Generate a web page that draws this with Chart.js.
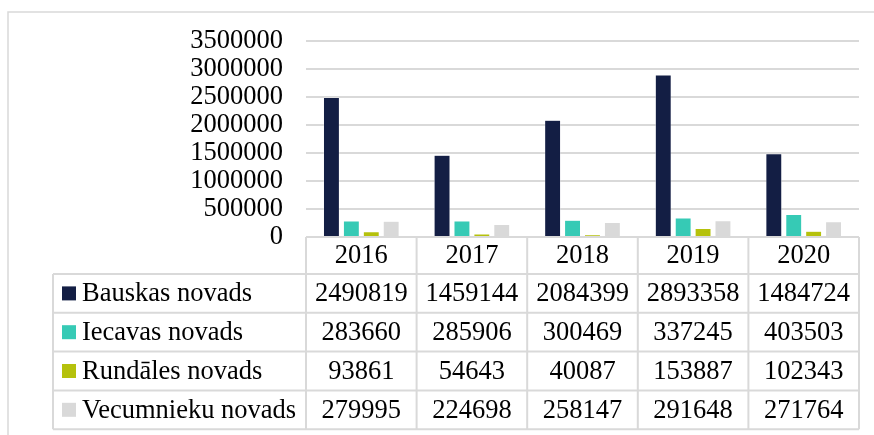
<!DOCTYPE html>
<html>
<head>
<meta charset="utf-8">
<script src="https://cdn.jsdelivr.net/npm/chart.js@4/dist/chart.umd.min.js"></script>
<style>
  html, body { margin: 0; padding: 0; background: #fff; }
  #wrap { width: 874px; height: 435px; position: relative; }
</style>
</head>
<body>
<div id="wrap"><canvas id="myChart" width="874" height="435"></canvas></div>
<script>
const years = ['2016', '2017', '2018', '2019', '2020'];
const seriesNames = ['Bauskas novads', 'Iecavas novads', 'Rundāles novads', 'Vecumnieku novads'];
const bauska = [2490819, 1459144, 2084399, 2893358, 1484724];
const iecava = [283660, 285906, 300469, 337245, 403503];
const rundale = [93861, 54643, 40087, 153887, 102343];
const vecumnieki = [279995, 224698, 258147, 291648, 271764];
const colors = ['#131e44', '#36cab5', '#b5c10c', '#d9d9d9'];

const seriesValues = [bauska, iecava, rundale, vecumnieki];
const FAMILY = '"Liberation Serif", "Times New Roman", serif';
const SIZE = 26.5;
const LINE = '#d9d9d9';

// data table under the plot, plus the outer frame
const tablePlugin = {
  id: 'dataTable',
  afterDraw(chart) {
    const ctx = chart.ctx;
    const area = chart.chartArea;
    const x = chart.scales.x;
    const colW = (area.right - area.left) / years.length;
    const tableLeft = 53;
    const headerTop = area.bottom;
    const headerH = 37;
    const rowH = 38.8;
    const rowsTop = headerTop + headerH;
    const bottom = rowsTop + rowH * seriesNames.length;

    ctx.save();
    // outer frame
    ctx.strokeStyle = LINE;
    ctx.lineWidth = 1.5;
    ctx.beginPath();
    ctx.moveTo(8, 435);
    ctx.lineTo(8, 12);
    ctx.lineTo(874, 12);
    ctx.stroke();

    // table grid
    ctx.lineWidth = 2;
    ctx.beginPath();
    ctx.moveTo(area.left, headerTop);
    ctx.lineTo(area.right, headerTop);
    for (let r = 0; r <= seriesNames.length; r++) {
      const y = rowsTop + r * rowH;
      ctx.moveTo(tableLeft, y);
      ctx.lineTo(area.right, y);
    }
    ctx.moveTo(tableLeft, rowsTop);
    ctx.lineTo(tableLeft, bottom);
    for (let c = 0; c <= years.length; c++) {
      const cx = area.left + c * colW;
      ctx.moveTo(cx, headerTop);
      ctx.lineTo(cx, bottom);
    }
    ctx.stroke();

    ctx.font = SIZE + 'px ' + FAMILY;
    ctx.fillStyle = '#000';
    ctx.textAlign = 'center';
    ctx.textBaseline = 'middle';
    years.forEach((yr, i) => {
      ctx.fillText(yr, x.getPixelForValue(i), headerTop + headerH / 2 + 1);
    });

    seriesNames.forEach((name, r) => {
      const cy = rowsTop + r * rowH + rowH / 2;
      ctx.fillStyle = colors[r];
      ctx.fillRect(62, cy - 7, 14, 14);
      ctx.fillStyle = '#000';
      ctx.textAlign = 'left';
      ctx.fillText(name, 82, cy + 1);
      ctx.textAlign = 'center';
      seriesValues[r].forEach((v, i) => {
        ctx.fillText(String(v), x.getPixelForValue(i), cy + 1);
      });
    });
    ctx.restore();
  }
};

const ctx = document.getElementById('myChart');

const chart = new Chart(ctx, {
  type: 'bar',
  data: {
    labels: years,
    datasets: seriesNames.map((name, i) => ({
      label: name,
      data: seriesValues[i],
      backgroundColor: colors[i],
      borderColor: '#ffffff',
      borderWidth: 0.5,
      barPercentage: 0.8,
      categoryPercentage: 0.72
    }))
  },
  options: {
    responsive: false,
    animation: false,
    layout: {
      padding: { left: 0, right: 15, top: 41, bottom: 198 }
    },
    plugins: {
      legend: { display: false },
      tooltip: { enabled: false }
    },
    scales: {
      x: {
        display: false
      },
      y: {
        min: 0,
        max: 3500000,
        afterFit(scale) { scale.width = 306; },
        border: { display: false },
        grid: { color: LINE, lineWidth: 2, drawTicks: false },
        ticks: {
          stepSize: 500000,
          autoSkip: false,
          padding: 23,
          color: '#000',
          font: { family: FAMILY, size: SIZE, lineHeight: 1 },
          callback: v => String(v)
        }
      }
    }
  },
  plugins: [tablePlugin]
});
</script>
</body>
</html>
